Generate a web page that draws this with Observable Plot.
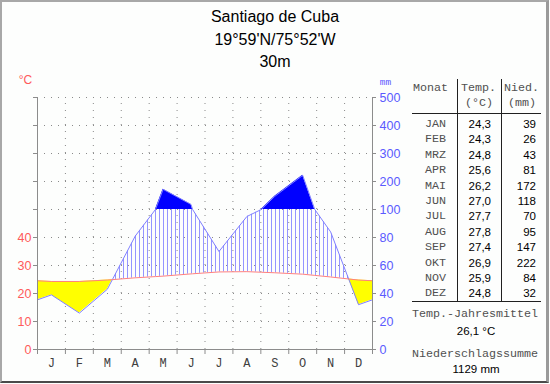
<!DOCTYPE html>
<html>
<head>
<meta charset="utf-8">
<script src="https://cdn.jsdelivr.net/npm/d3@7"></script>
<script src="https://cdn.jsdelivr.net/npm/@observablehq/plot@0.6"></script>
<style>
html, body { margin: 0; padding: 0; background: #ffffff; }
#wrap { position: relative; width: 550px; height: 384px; overflow: hidden; background: #fdfefd; }
#frame { position: absolute; left: 0; top: 0; width: 549px; height: 383px; box-sizing: border-box;
  border-top: 2px solid #a8a8a8; border-left: 2px solid #a8a8a8; border-right: 3px solid #9a9a9a; border-bottom: 2px solid #4a4a4a; pointer-events: none; }
#chart { position: absolute; left: 0; top: 0; }
.t { position: absolute; white-space: nowrap; line-height: 14px; }
.title { position: absolute; left: 0; width: 550px; text-align: center; font: 16px "Liberation Sans", Arial, sans-serif; color: #000; line-height: 20px; }
.mono { font-family: "Liberation Mono", "DejaVu Sans Mono", monospace; font-size: 11.7px; color: #505050; }
.num { font-family: "Liberation Sans", Arial, sans-serif; font-size: 11.5px; color: #000; }
.hl { position: absolute; height: 1px; background: #202020; }
.vl { position: absolute; width: 1px; background: #202020; }
</style>
</head>
<body>
<div id="wrap">
  <div id="chart"></div>
  <div class="title" style="top:7px">Santiago de Cuba</div>
  <div class="title" style="top:30px">19°59'N/75°52'W</div>
  <div class="title" style="top:52px">30m</div>
  <div id="table"></div>
  <div id="frame"></div>
</div>
<script>
// ---- data ----
const monthLetters = ["J","F","M","A","M","J","J","A","S","O","N","D"];
const monthNames = ["JAN","FEB","MRZ","APR","MAI","JUN","JUL","AUG","SEP","OKT","NOV","DEZ"];
const temp = [24.3, 24.3, 24.8, 25.6, 26.2, 27.0, 27.7, 27.8, 27.4, 26.9, 25.9, 24.8];
const precip = [39, 26, 43, 81, 172, 118, 70, 95, 147, 222, 84, 32];
const tempLabels = ["24,3","24,3","24,8","25,6","26,2","27,0","27,7","27,8","27,4","26,9","25,9","24,8"];
const mmTicks = [0, 20, 40, 60, 80, 100, 200, 300, 400, 500];
const tempTicks = [0, 10, 20, 30, 40];
const annualMean = "26,1 °C";
const annualSum = "1129 mm";

// ---- geometry for Walter-Lieth fills (display units: >100 mm compressed 1:10) ----
const disp = p => p <= 100 ? p : 100 + (p - 100) / 10;
const undisp = v => v <= 100 ? v : 100 + (v - 100) * 10;
const t2 = temp.map(t => 2 * t);
const edgeT = (t2[0] + t2[11]) / 2;
const edgeP = (disp(precip[0]) + disp(precip[11])) / 2;
const base = [{x: 0, t: edgeT, p: edgeP}];
temp.forEach((_, i) => base.push({x: i + 0.5, t: t2[i], p: disp(precip[i])}));
base.push({x: 12, t: edgeT, p: edgeP});
const pts = [];
for (let k = 0; k < base.length; k++) {
  const a = base[k];
  pts.push(a);
  const b = base[k + 1];
  if (!b) break;
  const cuts = [];
  const fa = a.p - a.t, fb = b.p - b.t;
  if (fa * fb < 0) cuts.push(fa / (fa - fb));
  const ga = a.p - 100, gb = b.p - 100;
  if (ga * gb < 0) cuts.push(ga / (ga - gb));
  cuts.sort((u, v) => u - v).forEach(f => pts.push({
    x: a.x + f * (b.x - a.x), t: a.t + f * (b.t - a.t), p: a.p + f * (b.p - a.p)
  }));
}
pts.forEach(q => { q.mm = undisp(q.p); });

// hatch strokes (fill style of the humid area): one every 4 px of plot width
const plotW = 335; // pixel width of the x range
const step = 4 * 12 / plotW;
const hatch = [];
function at(x) {
  for (let k = 0; k < pts.length - 1; k++) {
    const a = pts[k], b = pts[k + 1];
    if (x >= a.x && x <= b.x) {
      const f = (x - a.x) / (b.x - a.x || 1);
      return {t: a.t + f * (b.t - a.t), p: a.p + f * (b.p - a.p)};
    }
  }
  return null;
}
for (let x = 2 * 12 / plotW; x < 12; x += step) {
  const v = at(x);
  if (v && v.p > v.t) hatch.push({x, y1: v.t, y2: Math.min(v.p, 100)});
}

const gridLevels = mmTicks.filter(v => v > 0);
const boundaries = d3.range(1, 12);
const gridCol = "#8a8a8a";
const axisCol = "#8c8c8c";
const redCol = "#ff5a5a";
const blueCol = "#5a5aff";

const svg = Plot.plot({
  width: 550, height: 384,
  marginLeft: 37, marginRight: 178, marginTop: 97, marginBottom: 35,
  style: {background: "transparent", overflow: "visible"},
  x: {type: "linear", domain: [0, 12], axis: null},
  y: {type: "linear", domain: [0, 100, 500], range: [349, 209, 97], axis: null},
  marks: [
    Plot.ruleY(gridLevels, {x1: 0, x2: 12, stroke: gridCol, strokeDasharray: "1,6"}),
    Plot.ruleX(boundaries, {y1: 0, y2: 500, stroke: gridCol, strokeDasharray: "1,6"}),
    Plot.areaY(pts, {x: "x", y1: q => Math.min(q.mm, q.t), y2: "t", fill: "#ffff00"}),
    Plot.ruleX(hatch, {x: "x", y1: "y1", y2: "y2", stroke: "#9595ff", strokeWidth: 1}),
    Plot.areaY(pts, {x: "x", y1: () => 100, y2: q => Math.max(100, q.mm), fill: "#0000ff"}),
    Plot.line(pts, {x: "x", y: "mm", stroke: "#8080ff", strokeWidth: 1}),
    Plot.line(pts, {x: "x", y: "t", stroke: "#ff8080", strokeWidth: 1}),
    Plot.ruleX([0, 12], {y1: 0, y2: 500, stroke: axisCol}),
    Plot.ruleY([0], {x1: 0, x2: 12, stroke: axisCol}),
    Plot.ruleY(mmTicks, {x1: 0, x2: 0, insetLeft: -4, stroke: axisCol}),
    Plot.ruleY(mmTicks, {x1: 12, x2: 12, insetRight: -4, stroke: axisCol}),
    Plot.ruleX(d3.range(0, 13), {y1: 0, y2: 0, insetBottom: -5, stroke: axisCol}),
    Plot.text(tempTicks, {x: 0, y: d => 2 * d, text: d => String(d), textAnchor: "end", dx: -6,
      fill: redCol, fontSize: 12.5, fontFamily: "Liberation Sans, Arial, sans-serif"}),
    Plot.text(mmTicks, {x: 12, y: d => d, text: d => String(d), textAnchor: "start", dx: 7,
      fill: blueCol, fontSize: 12.5, fontFamily: "Liberation Sans, Arial, sans-serif"}),
    Plot.text(monthLetters, {x: (d, i) => i + 0.5, y: () => 0, text: d => d, dy: 14,
      fill: "#404040", fontSize: 12, fontFamily: "Liberation Mono, monospace"}),
    Plot.text(["°C"], {x: () => 0, y: () => 500, text: d => d, dx: -12, dy: -17,
      fill: redCol, fontSize: 12, fontFamily: "Liberation Sans, Arial, sans-serif"}),
    Plot.text(["mm"], {x: () => 12, y: () => 500, text: d => d, dx: 13, dy: -16,
      fill: blueCol, fontSize: 9.5, fontFamily: "Liberation Mono, monospace"})
  ]
});
document.getElementById("chart").appendChild(svg);

// table
const tbl = document.getElementById("table");
function addText(txt, cls, x, yc, align) {
  const el = document.createElement("div");
  el.className = "t " + cls;
  el.textContent = txt;
  el.style.top = (yc - 7) + "px";
  if (align === "right") { el.style.right = (550 - x) + "px"; }
  else if (align === "center") { el.style.left = (x - 100) + "px"; el.style.width = "200px"; el.style.textAlign = "center"; }
  else { el.style.left = x + "px"; }
  tbl.appendChild(el);
}
function addLine(cls, x, y, len) {
  const el = document.createElement("div");
  el.className = cls;
  el.style.left = x + "px"; el.style.top = y + "px";
  if (cls === "hl") el.style.width = len + "px"; else el.style.height = len + "px";
  tbl.appendChild(el);
}
addText("Monat", "mono", 413, 88, "left");
addText("Temp.", "mono", 461, 88, "left");
addText("Nied.", "mono", 504, 88, "left");
addText("(°C)", "mono", 465, 103, "left");
addText("(mm)", "mono", 508, 103, "left");
addLine("hl", 412, 113, 129);
addLine("hl", 412, 301, 129);
addLine("vl", 457, 79, 222);
addLine("vl", 501, 79, 222);
monthNames.forEach((m, i) => {
  const yc = 124 + i * 15.4;
  addText(m, "mono", 446, yc, "right");
  addText(tempLabels[i], "num", 491, yc, "right");
  addText(String(precip[i]), "num", 536, yc, "right");
});
addText("Temp.-Jahresmittel", "mono", 475, 314, "center");
addText(annualMean, "num", 476, 331, "center");
addText("Niederschlagssumme", "mono", 475, 354, "center");
addText(annualSum, "num", 476, 369, "center");
</script>
</body>
</html>
